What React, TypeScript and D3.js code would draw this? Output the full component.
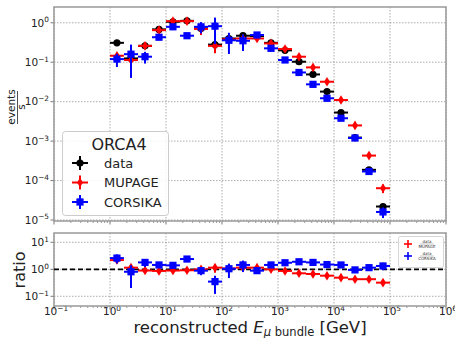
import React from 'react';
import * as d3 from 'd3';

// bin centres of reconstructed E (GeV), quarter-decade bins
const binCenters = [1.33, 2.37, 4.22, 7.5, 13.3, 23.7, 42.2, 75, 133, 237, 422, 750, 1334, 2371, 4217, 7499, 13335, 23714, 42170, 74989];

// events / s
const dataRate = [0.31, 0.125, 0.26, 0.68, 1.06, 1.12, 0.72, 0.28, 0.4, 0.47, 0.46, 0.31, 0.2, 0.103, 0.049, 0.018, 0.0053, 0.00123, 1.87e-4, 2.2e-5];
const mupageRate = [0.146, 0.114, 0.26, 0.65, 1.1, 1.1, 0.7, 0.26, 0.38, 0.4, 0.4, 0.3, 0.216, 0.138, 0.074, 0.032, 0.011, 0.0025, 4.3e-4, 6.4e-5];
const corsikaRate = [0.12, 0.16, 0.138, 0.43, 0.79, 0.47, 0.79, 0.82, 0.36, 0.35, 0.49, 0.225, 0.114, 0.055, 0.0275, 0.0122, 0.0038, 0.0012, 1.7e-4, 1.6e-5];

// relative statistical errors
const dataRelErr = [0.03, 0.05, 0.04, 0.03, 0.03, 0.03, 0.03, 0.04, 0.03, 0.03, 0.03, 0.03, 0.03, 0.03, 0.03, 0.04, 0.05, 0.06, 0.08, 0.12];
const mupageRelErr = [0.1, 0.12, 0.08, 0.08, 0.06, 0.06, 0.3, 0.35, 0.08, 0.08, 0.08, 0.06, 0.06, 0.06, 0.06, 0.06, 0.08, 0.1, 0.15, 0.25];
const corsikaRelErr = [0.37, 0.75, 0.33, 0.1, 0.1, 0.08, 0.32, 0.65, 0.55, 0.45, 0.15, 0.06, 0.06, 0.06, 0.06, 0.06, 0.08, 0.1, 0.12, 0.3];

// data / MC
const ratioMupage = [2.2, 1.15, 0.9, 0.87, 0.9, 0.92, 1.0, 1.15, 1.08, 1.15, 1.15, 1.0, 0.87, 0.71, 0.67, 0.58, 0.49, 0.43, 0.43, 0.32];
const ratioCorsika = [2.6, 0.81, 1.8, 1.45, 1.4, 2.4, 0.89, 0.35, 1.05, 1.45, 0.89, 1.45, 1.75, 1.9, 1.8, 1.5, 1.45, 0.95, 1.15, 1.33];

const xTicks = [-1, 0, 1, 2, 3, 4, 5, 6];
const yTicksTop = [0, -1, -2, -3, -4, -5];
const yTicksRatio = [1, 0, -1];

const W = 455;
const H = 338;
const L = 54;
const R = 446;
const FONT = 'DejaVu Sans, sans-serif';

const x = d3.scaleLog().domain([0.1, 1e6]).range([L, R]);
const yTop = d3.scaleLog().domain([Math.pow(10, -5.025), Math.pow(10, 0.4)]).range([221, 7]);
const yRat = d3.scaleLog().domain([Math.pow(10, -1.36), Math.pow(10, 1.345)]).range([306, 233]);

const HALF = Math.pow(10, 0.125);

type Shape = 'circle' | 'diamond' | 'square';

const Marker = ({ cx, cy, shape, color }: { cx: number; cy: number; shape: Shape; color: string }) => {
  if (shape === 'circle') return <circle cx={cx} cy={cy} r={3.6} fill={color} />;
  if (shape === 'square') return <rect x={cx - 3.6} y={cy - 3.6} width={7.2} height={7.2} fill={color} />;
  return <path d={`M${cx},${cy - 4.8}L${cx + 3},${cy}L${cx},${cy + 4.8}L${cx - 3},${cy}Z`} fill={color} />;
};

const Series = ({ vals, rel, y, shape, color }: { vals: number[]; rel: number[]; y: any; shape: Shape; color: string }) => {
  const [lo, hi] = y.domain();
  return (
    <g>
      {vals.map((v, i) => {
        const c = binCenters[i];
        const cx = x(c);
        const cy = y(v);
        const e = v * rel[i];
        const y1 = y(Math.min(hi, v + e));
        const y2 = y(Math.max(lo, v - e));
        return (
          <g key={i}>
            <line x1={x(c / HALF)} x2={x(c * HALF)} y1={cy} y2={cy} stroke={color} strokeWidth={2} />
            <line x1={cx} x2={cx} y1={y1} y2={y2} stroke={color} strokeWidth={2} />
            <Marker cx={cx} cy={cy} shape={shape} color={color} />
          </g>
        );
      })}
    </g>
  );
};

const Pow = ({ px, py, e, anchor, size }: { px: number; py: number; e: number; anchor: string; size: number }) => (
  <text x={px} y={py} textAnchor={anchor} fontFamily={FONT} fontSize={size} fill="#222">
    10
    <tspan dy={-size * 0.42} fontSize={size * 0.7}>{e < 0 ? `\u2212${-e}` : `${e}`}</tspan>
  </text>
);

const minorX: number[] = [];
for (let d = -1; d < 6; d++) for (let m = 2; m < 10; m++) minorX.push(m * Math.pow(10, d));

const Panel = ({ y, top, bottom, ticks, showX }: { y: any; top: number; bottom: number; ticks: number[]; showX: boolean }) => (
  <g>
    {xTicks.map((t) => (
      <line key={'gx' + t} x1={x(Math.pow(10, t))} x2={x(Math.pow(10, t))} y1={top} y2={bottom} stroke="#888" strokeWidth={0.7} strokeDasharray="1.5,1.5" />
    ))}
    {ticks.map((t) => (
      <line key={'gy' + t} x1={L} x2={R} y1={y(Math.pow(10, t))} y2={y(Math.pow(10, t))} stroke="#888" strokeWidth={0.7} strokeDasharray="1.5,1.5" />
    ))}
    {minorX.map((m, i) => (
      <line key={'mx' + i} x1={x(m)} x2={x(m)} y1={bottom} y2={bottom + 2} stroke="#555" strokeWidth={0.6} />
    ))}
    {xTicks.map((t) => (
      <line key={'tx' + t} x1={x(Math.pow(10, t))} x2={x(Math.pow(10, t))} y1={bottom} y2={bottom + 3.5} stroke="#555" strokeWidth={0.8} />
    ))}
    {ticks.map((t) => (
      <g key={'ty' + t}>
        <line x1={L - 3.5} x2={L} y1={y(Math.pow(10, t))} y2={y(Math.pow(10, t))} stroke="#555" strokeWidth={0.8} />
        <Pow px={L - 5} py={y(Math.pow(10, t)) + 3.8} e={t} anchor="end" size={10.5} />
      </g>
    ))}
    {showX &&
      xTicks.map((t) => <Pow key={'lx' + t} px={x(Math.pow(10, t)) + 2} py={315} e={t} anchor="middle" size={10.5} />)}
    <rect x={L} y={top} width={R - L} height={bottom - top} fill="none" stroke="#999" strokeWidth={1.5} />
  </g>
);

export default function App() {
  return (
    <svg width={W} height={H} style={{ position: 'absolute', left: 0, top: 0 }}>
      <rect width={W} height={H} fill="#fff" />

      {/* upper panel */}
      <Panel y={yTop} top={7} bottom={221} ticks={yTicksTop} showX={false} />
      <Series vals={dataRate} rel={dataRelErr} y={yTop} shape="circle" color="#000" />
      <Series vals={mupageRate} rel={mupageRelErr} y={yTop} shape="diamond" color="#f00" />
      <Series vals={corsikaRate} rel={corsikaRelErr} y={yTop} shape="square" color="#00f" />

      <rect x={62.5} y={131.5} width={106} height={84} rx={3} fill="#fff" fillOpacity={0.85} stroke="#ccc" />
      <text x={119} y={150} textAnchor="middle" fontFamily={FONT} fontSize={16} fill="#222">ORCA4</text>
      {[
        { label: 'data', shape: 'circle' as Shape, color: '#000' },
        { label: 'MUPAGE', shape: 'diamond' as Shape, color: '#f00' },
        { label: 'CORSIKA', shape: 'square' as Shape, color: '#00f' },
      ].map((d, i) => {
        const ly = 163 + i * 19.5;
        return (
          <g key={d.label}>
            <line x1={72} x2={88} y1={ly} y2={ly} stroke={d.color} strokeWidth={2} />
            <line x1={80} x2={80} y1={ly - 7} y2={ly + 7} stroke={d.color} strokeWidth={2} />
            <Marker cx={80} cy={ly} shape={d.shape} color={d.color} />
            <text x={104} y={ly + 4.8} fontFamily={FONT} fontSize={13} fill="#222">{d.label}</text>
          </g>
        );
      })}

      <g fontFamily={FONT} fill="#222">
        <text transform="translate(15,107) rotate(-90)" textAnchor="middle" fontSize={10.5}>events</text>
        <line x1={17.5} x2={17.5} y1={91} y2={124} stroke="#222" strokeWidth={0.8} />
        <text transform="translate(25,107) rotate(-90)" textAnchor="middle" fontSize={10.5}>s</text>
      </g>

      {/* ratio panel */}
      <Panel y={yRat} top={233} bottom={306} ticks={yTicksRatio} showX={true} />
      <line x1={L} x2={R} y1={yRat(1)} y2={yRat(1)} stroke="#000" strokeWidth={1.8} strokeDasharray="5,3" />
      <Series vals={ratioMupage} rel={mupageRelErr} y={yRat} shape="diamond" color="#f00" />
      <Series vals={ratioCorsika} rel={corsikaRelErr} y={yRat} shape="square" color="#00f" />

      <rect x={398.5} y={236.5} width={45} height={31} rx={2} fill="#fff" fillOpacity={0.85} stroke="#ccc" strokeWidth={0.8} />
      {[
        { top: 'data', bot: 'MUPAGE', color: '#f00' },
        { top: 'data', bot: 'CORSIKA', color: '#00f' },
      ].map((d, i) => {
        const ly = 244 + i * 12;
        return (
          <g key={d.bot}>
            <line x1={404} x2={412} y1={ly} y2={ly} stroke={d.color} strokeWidth={1.6} />
            <line x1={408} x2={408} y1={ly - 4} y2={ly + 4} stroke={d.color} strokeWidth={1.6} />
            <text x={427} y={ly - 1} textAnchor="middle" fontFamily={FONT} fontSize={4} fill="#333">{d.top}</text>
            <line x1={420} x2={434} y1={ly} y2={ly} stroke="#333" strokeWidth={0.3} />
            <text x={427} y={ly + 4} textAnchor="middle" fontFamily={FONT} fontSize={4} fill="#333">{d.bot}</text>
          </g>
        );
      })}

      <text transform="translate(25,270) rotate(-90)" textAnchor="middle" fontFamily={FONT} fontSize={16} fill="#222">ratio</text>

      <text x={250} y={333} textAnchor="middle" fontFamily={FONT} fontSize={16.5} fill="#222">
        reconstructed <tspan fontStyle="italic">E</tspan>
        <tspan dy={3} fontSize={11.5} fontStyle="italic">μ</tspan>
        <tspan fontSize={11.5}> bundle</tspan>
        <tspan dy={-3}> [GeV]</tspan>
      </text>
    </svg>
  );
}
